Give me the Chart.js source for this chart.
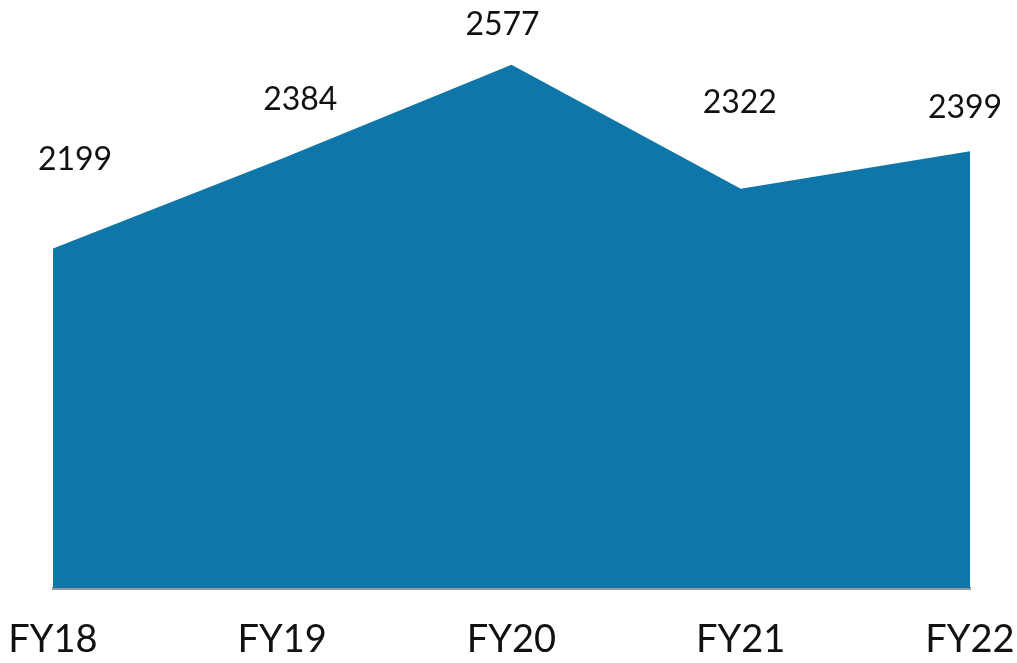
<!DOCTYPE html>
<html>
<head>
<meta charset="utf-8">
<script src="https://cdn.jsdelivr.net/npm/chart.js@4/dist/chart.umd.min.js"></script>
<style>
  html, body { margin: 0; padding: 0; background: #fff; }
  #wrap { width: 1017px; height: 663px; }
</style>
</head>
<body>
<div id="wrap"><canvas id="chart"></canvas></div>
<script>
// Data
const years = ["FY18", "FY19", "FY20", "FY21", "FY22"];
const values = [2199, 2384, 2577, 2322, 2399];

// value label nudges (px) so they sit where the original had them
const labelDx = [22, 18, -9, -1, -5];
const labelDy = [-89, -59, -40, -86, -44];

const fontFamily = "Lato, 'DejaVu Sans', sans-serif";

const valueLabels = {
    id: "valueLabels",
    afterDatasetsDraw(chart) {
        const ctx = chart.ctx;
        const meta = chart.getDatasetMeta(0);
        ctx.save();
        ctx.font = "32px " + fontFamily;
        ctx.fillStyle = "#111";
        ctx.textAlign = "center";
        ctx.textBaseline = "middle";
        meta.data.forEach((pt, i) => {
            ctx.fillText(String(values[i]), pt.x + labelDx[i], pt.y + labelDy[i]);
        });
        ctx.restore();
    }
};

new Chart(document.getElementById("chart"), {
    type: "line",
    data: {
        labels: years,
        datasets: [{
            data: values,
            fill: "start",
            backgroundColor: "#0f76a9",
            borderColor: "#0f76a9",
            borderWidth: 0,
            pointRadius: 0,
            tension: 0
        }]
    },
    options: {
        responsive: true,
        maintainAspectRatio: false,
        animation: false,
        layout: { padding: { left: 53, right: 47, top: 5, bottom: 0 } },
        plugins: { legend: { display: false }, tooltip: { enabled: false } },
        scales: {
            x: {
                offset: false,
                grid: { display: false, drawTicks: false },
                border: { display: true, color: "#999", width: 3 },
                ticks: {
                    padding: 29,
                    color: "#111",
                    font: { family: fontFamily, size: 38 },
                    maxRotation: 0,
                    autoSkip: false
                },
                afterFit(scale) {
                    // labels may overhang the edges like in the original
                    scale.paddingLeft = 0;
                    scale.paddingRight = 0;
                    scale.height = 75;
                }
            },
            y: {
                display: false,
                min: 1500,
                max: 2700
            }
        }
    },
    plugins: [valueLabels]
});
</script>
</body>
</html>
